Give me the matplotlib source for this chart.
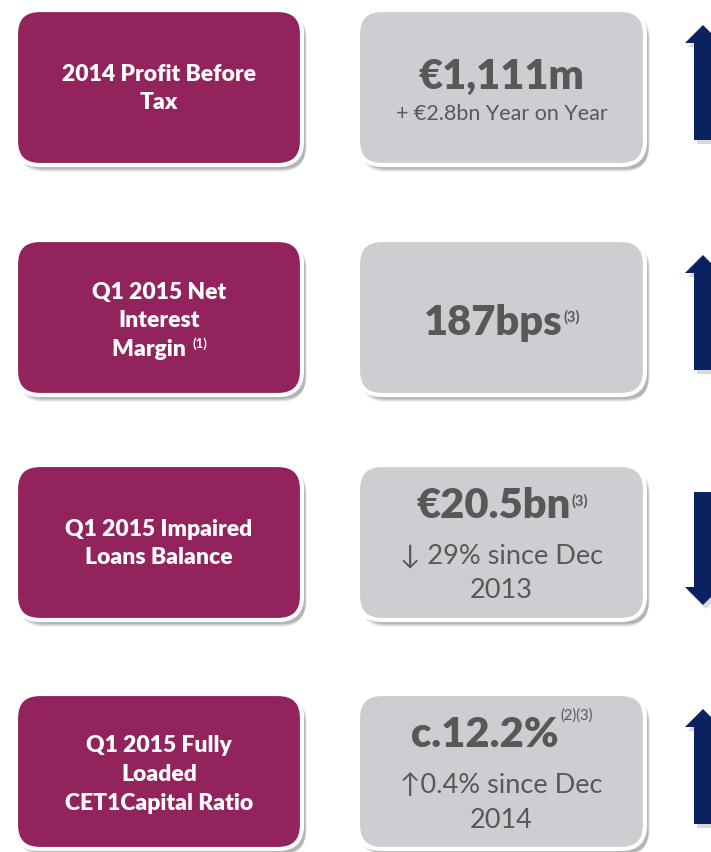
import matplotlib.pyplot as plt
from matplotlib.patches import FancyBboxPatch, Polygon

plt.rcParams['font.family'] = ['Lato', 'DejaVu Sans']

# rows of the infographic
labels = [
    ["2014 Profit Before", "Tax"],
    ["Q1 2015 Net", "Interest", "Margin "],
    ["Q1 2015 Impaired", "Loans Balance"],
    ["Q1 2015 Fully", "Loaded", "CET1Capital Ratio"],
]
label_notes = ["", "(1)", "", ""]
values = ["€1,111m", "187bps", "€20.5bn", "c.12.2%"]
value_notes = ["", "(3)", "(3)", "(2)(3)"]
subtexts = [["+ €2.8bn Year on Year"], [], ["↓ 29% since Dec", "2013"], ["↑0.4% since Dec", "2014"]]
directions = ["up", "up", "down", "up"]

W, H = 711, 852
row_tops = [10, 240, 465, 694]
box_h = 155
left_x, left_w = 16, 286
right_x, right_w = 358, 287

MAGENTA = '#93235C'
GREY = '#CECED2'
TEXT_GREY = '#58585A'
NAVY = '#0B2160'

fig = plt.figure(figsize=(W / 100, H / 100), dpi=100)
ax = fig.add_axes([0, 0, 1, 1])
ax.set_xlim(0, W)
ax.set_ylim(H, 0)
ax.axis('off')


def box(x, y, w, h, color):
    # soft drop shadow
    for i, a in enumerate([0.05, 0.07, 0.09, 0.11]):
        off = 7 - i
        ax.add_patch(FancyBboxPatch((x + 3 + i * 0.5, y + off), w, h,
                                    boxstyle="round,pad=0,rounding_size=24",
                                    fc='black', ec='none', alpha=a, zorder=1))
    ax.add_patch(FancyBboxPatch((x, y), w, h, boxstyle="round,pad=0,rounding_size=24",
                                fc=color, ec='white', lw=3, zorder=2))


renderer = fig.canvas.get_renderer()


def width_px(t):
    bb = t.get_window_extent(renderer=renderer)
    return bb.width


def text_with_note(cx, cy, main, note, size, note_size, color, weight, note_dy, note_weight):
    t = ax.text(0, cy, main, fontsize=size, color=color, fontweight=weight,
                ha='left', va='center', zorder=3)
    if not note:
        t.set_ha('center')
        t.set_x(cx)
        return
    n = ax.text(0, cy + note_dy, note, fontsize=note_size, color=color, fontweight=note_weight,
                ha='left', va='center', zorder=3)
    w1, w2 = width_px(t), width_px(n)
    x0 = cx - (w1 + w2) / 2
    t.set_x(x0)
    n.set_x(x0 + w1 + 1)


for i in range(len(values)):
    top = row_tops[i]
    box(left_x, top, left_w, box_h, MAGENTA)
    box(right_x, top, right_w, box_h, GREY)

    # left label
    cx = left_x + left_w / 2
    lines = labels[i]
    lh = 28.5
    if len(lines) == 3:
        y0 = top + box_h / 2 + 3 - lh
    else:
        y0 = top + box_h / 2 + 1 - lh * (len(lines) - 1) / 2
    for j, ln in enumerate(lines):
        note = label_notes[i] if j == len(lines) - 1 else ""
        text_with_note(cx, y0 + j * lh, ln, note, 16.5, 9.5, 'white', 'heavy', -5, 'bold')

    # right value
    cx = right_x + right_w / 2
    subs = subtexts[i]
    if len(subs) == 0:
        vy = top + box_h / 2 + 5
    elif len(subs) == 1:
        vy = top + 67
    else:
        vy = top + 41
    if value_notes[i] == "(2)(3)":
        text_with_note(cx, vy, values[i], value_notes[i], 30, 10.5, TEXT_GREY, 'heavy', -19, 'normal')
    else:
        text_with_note(cx, vy, values[i], value_notes[i], 30, 10.5, TEXT_GREY, 'heavy', -5, 'bold')
    if len(subs) == 1:
        ax.text(cx, top + 104, subs[0], fontsize=15.5, color=TEXT_GREY, ha='center', va='center', zorder=3)
    elif len(subs) == 2:
        for j, s in enumerate(subs):
            ax.text(cx, top + 91 + j * 35, s, fontsize=19.5, color=TEXT_GREY,
                    ha='center', va='center', zorder=3)

    # arrow at right edge (partly cut off)
    ax_c = 703
    sw, hw, hh = 9, 18, 18
    if directions[i] == "up":
        tip, base = top + 15, top + 130
        pts = [(ax_c, tip), (ax_c + hw, tip + hh), (ax_c + sw, tip + hh), (ax_c + sw, base),
               (ax_c - sw, base), (ax_c - sw, tip + hh), (ax_c - hw, tip + hh)]
    else:
        tip, base = top + 140, top + 27
        pts = [(ax_c, tip), (ax_c + hw, tip - hh), (ax_c + sw, tip - hh), (ax_c + sw, base),
               (ax_c - sw, base), (ax_c - sw, tip - hh), (ax_c - hw, tip - hh)]
    shadow = [(x + 3, y + 4) for x, y in pts]
    ax.add_patch(Polygon(shadow, closed=True, fc='black', ec='none', alpha=0.15, zorder=1))
    ax.add_patch(Polygon(pts, closed=True, fc=NAVY, ec='none', zorder=2))

fig.savefig('out.png', dpi=100)
